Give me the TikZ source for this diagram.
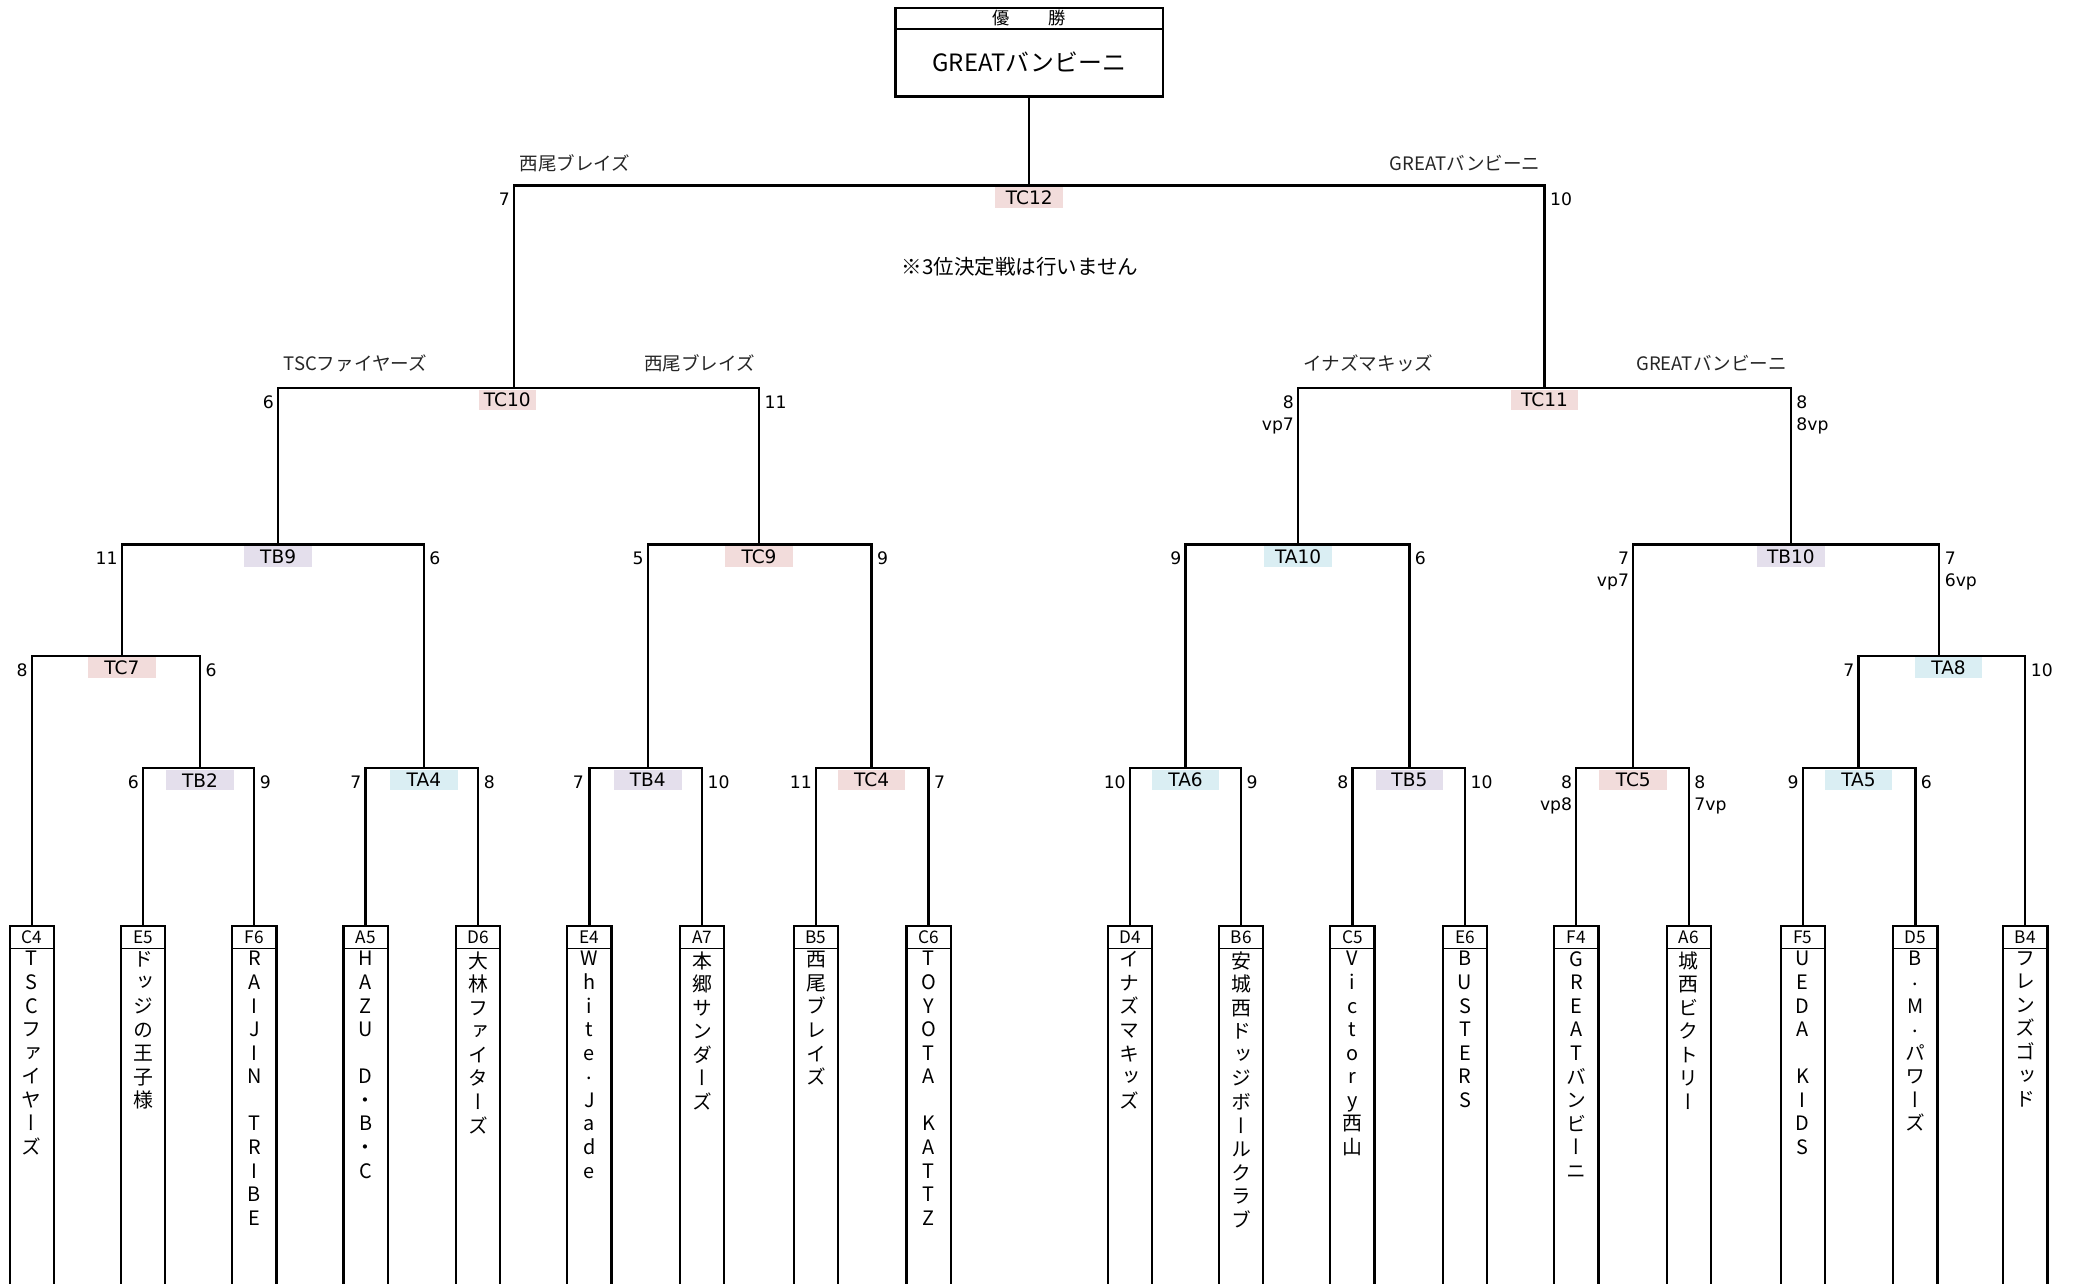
\documentclass[tikz,border=0pt]{standalone}
\usepackage{fontspec}
\setmainfont{DejaVu Sans}
\newfontfamily\jp{Noto Sans CJK JP}
\newfontfamily\vjp[RawFeature=+vert]{Noto Sans CJK JP}
\definecolor{tcfill}{HTML}{F2DCDB}
\definecolor{tbfill}{HTML}{E4DFEC}
\definecolor{tafill}{HTML}{DAEEF3}
\tikzset{
  br/.style={line width=1.7pt, line join=miter},
  team/.style={minimum width=33pt, minimum height=280pt, inner sep=0pt, anchor=north},
  tbox/.style={line width=1.7pt, line join=miter},
  hline/.style={line width=1pt},
  hdr/.style={font=\jp\fontsize{13}{13}\selectfont, inner sep=0pt},
  vtx/.style={font=\vjp\fontsize{15}{17.8}\selectfont, align=center, inner sep=0pt, anchor=north},
  lab/.style={minimum width=51pt, minimum height=15.5pt, inner sep=0pt, font=\fontsize{14}{14}\selectfont, anchor=north},
  tc/.style={lab, fill=tcfill},
  tb/.style={lab, fill=tbfill},
  ta/.style={lab, fill=tafill},
  scl/.style={anchor=base east, inner sep=0pt, font=\fontsize{13}{13}\selectfont},
  scr/.style={anchor=base west, inner sep=0pt, font=\fontsize{13}{13}\selectfont},
  nml/.style={anchor=base west, inner sep=0pt, font=\jp\fontsize{14}{14}\selectfont, text=black!85},
  nmr/.style={anchor=base east, inner sep=0pt, font=\jp\fontsize{14}{14}\selectfont, text=black!85},
}
\newcommand\teambox[3]{%
  \node[team] (#1) at (#2,699) {};
  \draw[tbox] (#1.south west) |- (#1.north east) -- (#1.south east);
  \draw[hline] ([yshift=-17pt]#1.north west) -- ([yshift=-17pt]#1.north east);
  \node[hdr] (#1h) at ([yshift=-8.5pt]#1.north) {#1};
  \node[vtx] (#1t) at ([yshift=-19pt]#1.north) {#3};
}
\newcommand\dotv{\raisebox{0.22em}{.}}
\begin{document}
\begin{tikzpicture}[x=1pt,y=-1pt]
\useasboundingbox (0,0) rectangle (1568,969.3);

% champion box
\node[draw, line width=1.7pt, minimum width=202pt, minimum height=67pt, inner sep=0pt, anchor=north] (champ) at (777,5) {};
\draw[hline] ([yshift=-17pt]champ.north west) -- ([yshift=-17pt]champ.north east);
\node[hdr] (champh) at ([yshift=-8.5pt]champ.north) {優\hspace{29pt}勝};
\node[inner sep=0pt, font=\jp\fontsize{18}{18}\selectfont] (champn) at (777,47) {GREATバンビーニ};

% team boxes
\teambox{C4}{24}{T\\S\\C\\フ\\ァ\\イ\\ヤ\\ー\\ズ}
\teambox{E5}{108}{ド\\ッ\\ジ\\の\\王\\子\\様}
\teambox{F6}{192}{R\\A\\I\\J\\I\\N\\\mbox{}\\T\\R\\I\\B\\E}
\teambox{A5}{276}{H\\A\\Z\\U\\\mbox{}\\D\\・\\B\\・\\C}
\teambox{D6}{361}{大\\林\\フ\\ァ\\イ\\タ\\ー\\ズ}
\teambox{E4}{445}{W\\h\\i\\t\\e\\\dotv\\J\\a\\d\\e}
\teambox{A7}{530}{本\\郷\\サ\\ン\\ダ\\ー\\ズ}
\teambox{B5}{616}{西\\尾\\ブ\\レ\\イ\\ズ}
\teambox{C6}{701}{T\\O\\Y\\O\\T\\A\\\mbox{}\\K\\A\\T\\T\\Z}
\teambox{D4}{853}{イ\\ナ\\ズ\\マ\\キ\\ッ\\ズ}
\teambox{B6}{937}{安\\城\\西\\ド\\ッ\\ジ\\ボ\\ー\\ル\\ク\\ラ\\ブ}
\teambox{C5}{1021}{V\\i\\c\\t\\o\\r\\y\\西\\山}
\teambox{E6}{1106}{B\\U\\S\\T\\E\\R\\S}
\teambox{F4}{1190}{G\\R\\E\\A\\T\\バ\\ン\\ビ\\ー\\ニ}
\teambox{A6}{1275}{城\\西\\ビ\\ク\\ト\\リ\\ー}
\teambox{F5}{1361}{U\\E\\D\\A\\\mbox{}\\K\\I\\D\\S}
\teambox{D5}{1446}{B\\\dotv\\M\\\dotv\\パ\\ワ\\ー\\ズ}
\teambox{B4}{1529}{フ\\レ\\ン\\ズ\\ゴ\\ッ\\ド}

% match junctions (up-line x, bar y)
\coordinate (TB2) at (151,580);
\coordinate (TA4) at (320,580);
\coordinate (TB4) at (489,580);
\coordinate (TC4) at (658,580);
\coordinate (TA6) at (895,580);
\coordinate (TB5) at (1064,580);
\coordinate (TC5) at (1233,580);
\coordinate (TA5) at (1403,580);
\coordinate (TC7) at (92,495);
\coordinate (TA8) at (1464,495);
\coordinate (TB9) at (210,411);
\coordinate (TC9) at (573,411);
\coordinate (TA10) at (980,411);
\coordinate (TB10) at (1352,411);
\coordinate (TC10) at (388,293);
\coordinate (TC11) at (1166,293);
\coordinate (TC12) at (777,140);

% brackets
\draw[br] (E5.north) |- (TB2) -| (F6.north);
\draw[br] (A5.north) |- (TA4) -| (D6.north);
\draw[br] (E4.north) |- (TB4) -| (A7.north);
\draw[br] (B5.north) |- (TC4) -| (C6.north);
\draw[br] (D4.north) |- (TA6) -| (B6.north);
\draw[br] (C5.north) |- (TB5) -| (E6.north);
\draw[br] (F4.north) |- (TC5) -| (A6.north);
\draw[br] (F5.north) |- (TA5) -| (D5.north);
\draw[br] (C4.north) |- (TC7) -| (TB2);
\draw[br] (TA5) |- (TA8) -| (B4.north);
\draw[br] (TC7) |- (TB9) -| (TA4);
\draw[br] (TB4) |- (TC9) -| (TC4);
\draw[br] (TA6) |- (TA10) -| (TB5);
\draw[br] (TC5) |- (TB10) -| (TA8);
\draw[br] (TB9) |- (TC10) -| (TC9);
\draw[br] (TA10) |- (TC11) -| (TB10);
\draw[br] (TC10) |- (TC12) -| (TC11);
\draw[br] (TC12) -- (champ.south);

% match labels
\node[tc] (lTC12) at (777,141) {TC12};
\node[tc, minimum width=43pt] (lTC10) at (383,294) {TC10};
\node[tc] (lTC11) at (1166,294) {TC11};
\node[tb] (lTB9) at (210,412) {TB9};
\node[tc] (lTC9) at (573,412) {TC9};
\node[ta] (lTA10) at (980,412) {TA10};
\node[tb] (lTB10) at (1352,412) {TB10};
\node[tc] (lTC7) at (92,496) {TC7};
\node[ta] (lTA8) at (1471,496) {TA8};
\node[tb] (lTB2) at (151,581) {TB2};
\node[ta] (lTA4) at (320,581) {TA4};
\node[tb] (lTB4) at (489,581) {TB4};
\node[tc] (lTC4) at (658,581) {TC4};
\node[ta] (lTA6) at (895,581) {TA6};
\node[tb] (lTB5) at (1064,581) {TB5};
\node[tc] (lTC5) at (1233,581) {TC5};
\node[ta] (lTA5) at (1403,581) {TA5};

% scores
\node[scl] (s1) at (385,155.5) {7};
\node[scr] (s2) at (1170,155.5) {10};
\node[scl] (s3) at (207,308.5) {6};
\node[scr] (s4) at (577,308.5) {11};
\node[scl] (s5) at (977,308.5) {8};
\node[scl] (s6) at (977,325) {vp7};
\node[scr] (s7) at (1356,308.5) {8};
\node[scr] (s8) at (1356,325) {8vp};
\node[scl] (s9) at (89,426.5) {11};
\node[scr] (s10) at (324,426.5) {6};
\node[scl] (s11) at (486,426.5) {5};
\node[scr] (s12) at (662,426.5) {9};
\node[scl] (s13) at (892,426.5) {9};
\node[scr] (s14) at (1068,426.5) {6};
\node[scl] (s15) at (1230,426.5) {7};
\node[scl] (s16) at (1230,443) {vp7};
\node[scr] (s17) at (1468,426.5) {7};
\node[scr] (s18) at (1468,443) {6vp};
\node[scl] (s19) at (21,510.5) {8};
\node[scr] (s20) at (155,510.5) {6};
\node[scl] (s21) at (1400,510.5) {7};
\node[scr] (s22) at (1533,510.5) {10};
\node[scl] (s23) at (105,595.5) {6};
\node[scr] (s24) at (196,595.5) {9};
\node[scl] (s25) at (273,595.5) {7};
\node[scr] (s26) at (365,595.5) {8};
\node[scl] (s27) at (441,595.5) {7};
\node[scr] (s28) at (534,595.5) {10};
\node[scl] (s29) at (613,595.5) {11};
\node[scr] (s30) at (705,595.5) {7};
\node[scl] (s31) at (850,595.5) {10};
\node[scr] (s32) at (941,595.5) {9};
\node[scl] (s33) at (1018,595.5) {8};
\node[scr] (s34) at (1110,595.5) {10};
\node[scl] (s35) at (1187,595.5) {8};
\node[scl] (s36) at (1187,612) {vp8};
\node[scr] (s37) at (1279,595.5) {8};
\node[scr] (s38) at (1279,612) {7vp};
\node[scl] (s39) at (1358,595.5) {9};
\node[scr] (s40) at (1450,595.5) {6};

% winner names above bars
\node[nml] (n1) at (392,128.5) {西尾ブレイズ};
\node[nmr] (n2) at (1163,128.5) {GREATバンビーニ};
\node[nml] (n3) at (214,279.5) {TSCファイヤーズ};
\node[nmr] (n4) at (570,279.5) {西尾ブレイズ};
\node[nml] (n5) at (984,279.5) {イナズマキッズ};
\node[nmr] (n6) at (1349,279.5) {GREATバンビーニ};

% note
\node[inner sep=0pt, font=\jp\fontsize{15.5}{15.5}\selectfont] (note) at (770,201) {※3位決定戦は行いません};
\end{tikzpicture}
\end{document}
